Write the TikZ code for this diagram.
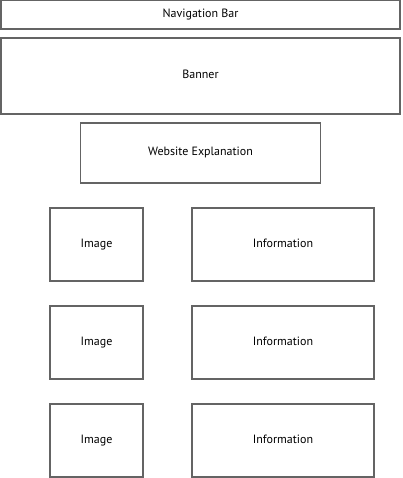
\documentclass[tikz,border=0pt]{standalone}
\usepackage{fontspec}
\setmainfont{PT Sans}
\usetikzlibrary{positioning}
\definecolor{boxgray}{RGB}{100,100,100}

\begin{document}
\begin{tikzpicture}[x=1pt,y=-1pt,
    wirebox/.style={draw=boxgray,line width=1.15pt,inner sep=0pt,outer sep=0pt,
      text height=9pt,text depth=3pt,font=\fontsize{12}{14}\selectfont},
    imgbox/.style={wirebox,minimum width=93pt,minimum height=73pt},
    infobox/.style={wirebox,minimum width=182pt,minimum height=73pt}]
  \useasboundingbox (0,0) rectangle (402,478);

  \node[wirebox,minimum width=399pt,minimum height=29pt] (nav) at (200.5,14.5) {Navigation Bar};
  \node[wirebox,minimum width=399pt,minimum height=76pt,below=9pt of nav] (banner) {Banner};
  \node[wirebox,minimum width=240pt,minimum height=60pt,below=9pt of banner] (explain) {Website Explanation};

  % image and information rows
  \node[imgbox] (img1) at (96.5,244.5) {Image};
  \node[imgbox,below=25pt of img1] (img2) {Image};
  \node[imgbox,below=25pt of img2] (img3) {Image};
  \node[infobox,right=49pt of img1] (info1) {Information};
  \node[infobox,right=49pt of img2] (info2) {Information};
  \node[infobox,right=49pt of img3] (info3) {Information};
\end{tikzpicture}
\end{document}
